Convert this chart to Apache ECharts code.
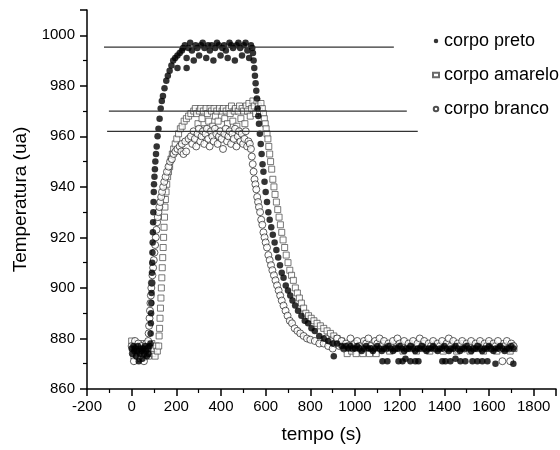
<!DOCTYPE html>
<html>
<head>
<meta charset="utf-8">
<script src="https://cdn.jsdelivr.net/npm/echarts@6/dist/echarts.min.js"></script>
<style>html,body{margin:0;padding:0;background:#fff}#c{width:560px;height:450px}</style>
</head>
<body>
<div id="c"></div>
<script>
// ---- corpo preto (filled dots) ----
var pretoX = [0,4,8,12,16,20,24,28,32,36,40,44,48,52,56,60,64,68,72,76,80,
  84,85,86,87,88,89,90,91,92,93,94,95,96,97,98,99,100,102,104,106,109,112,116,120,125,130,135,140,147,155,162,170,178,186,195,205,215,225,205,246,
  230,238,246,254,262,270,278,286,294,302,310,318,326,334,342,350,358,366,374,382,390,398,406,414,422,430,438,446,454,462,470,478,486,494,502,510,518,526,534,
  540,543,546,549,552,555,558,561,564,567,570,574,578,582,586,590,595,600,606,612,618,625,632,640,648,656,664,672,680,690,700,710,720,732,745,760,775,790,805,820,840,860,880,900,920,
  940,950,960,970,980,990,1000,1010,1020,1030,1040,1050,1060,1070,1080,1090,1100,1110,1120,1130,1140,1150,1160,1170,1180,1190,1200,1210,1220,1230,1240,1250,1260,1270,1280,1290,1300,1310,1320,1330,1340,1350,1360,1370,1380,1390,1400,1410,1420,1430,1440,1450,1460,1470,1480,1490,1500,1510,1520,1530,1540,1550,1560,1570,1580,1590,1600,1610,1620,1630,1640,1650,1660,1670,1680,1690,1700,1710,
  905,1123,1145,1195,1213,1226,1248,1270,1284,1391,1405,1427,1450,1472,1494,1526,1548,1570,1593,1629,1709];
var pretoY = [876,874,877,875,876,873,875,877,871,874,876,875,872,876,874,877,875,873,876,874,877,
  878,882,886,890,894,898,902,906,910,914,918,922,926,930,934,938,941,944,947,950,953,956,960,963,967,971,974,976,979,982,984,986,988,990,991,992,993,994,987,987,
  995,996,991,995,997,994,990,996,995,992,996,997,995,991,996,994,996,990,995,997,996,992,995,996,994,991,997,996,995,990,996,997,995,992,996,997,994,991,996,
  995,993,990,987,984,981,978,975,971,968,965,961,957,953,949,946,942,938,934,930,927,924,921,918,915,912,909,906,904,901,899,897,895,893,891,889,887,886,884,883,881,880,879,878,878,
  877,876,877,876,877,876,876,877,876,875,876,877,876,876,875,876,877,876,875,876,876,877,876,875,876,876,877,876,875,876,876,877,876,875,876,876,877,876,875,876,876,877,876,875,876,876,877,876,875,876,876,877,876,875,876,876,877,876,875,876,876,877,876,875,876,876,877,876,875,876,876,877,876,875,876,876,877,876,
  873,871,871,871,871,872,871,871,871,871,871,871,872,871,871,871,871,871,871,870,870];

// ---- corpo amarelo (open squares) ----
var amareloX = [0,5,10,15,20,25,30,35,40,45,50,55,60,65,70,75,80,85,90,95,100,105,110,115,
  121,123,125,127,129,131,133,135,137,139,141,143,145,147,149,151,154,157,161,165,170,176,182,188,195,202,210,218,226,235,245,255,265,278,
  285,291,297,303,309,315,321,327,333,339,345,351,357,363,369,375,381,387,393,399,405,411,417,423,429,435,441,447,453,459,465,471,477,483,489,495,501,507,513,519,525,531,537,543,549,555,561,567,573,579,585,
  590,594,598,602,606,610,614,618,622,627,632,637,642,648,654,660,666,672,678,685,692,700,708,716,724,733,742,751,760,770,780,792,804,816,830,845,860,875,890,905,920,940,
  955,965,975,985,995,1005,1015,1025,1035,1045,1055,1065,1075,1085,1095,1105,1115,1125,1135,1145,1155,1165,1175,1185,1195,1205,1215,1225,1235,1245,1255,1265,1275,1285,1295,1305,1315,1325,1335,1345,1355,1365,1375,1385,1395,1405,1415,1425,1435,1445,1455,1465,1475,1485,1495,1505,1515,1525,1535,1545,1555,1565,1575,1585,1595,1605,1615,1625,1635,1645,1655,1665,1675,1685,1695,1705,1712];
var amareloY = [879,876,873,877,875,878,874,876,873,877,875,878,876,874,877,873,876,875,878,874,876,873,877,875,
  877,881,884,888,892,896,900,904,908,912,916,920,924,928,932,935,938,941,944,946,948,951,953,955,957,959,961,963,964,966,967,968,969,970,
  971,969,965,970,971,967,970,963,971,969,966,971,970,964,971,968,970,966,971,962,970,971,967,970,965,971,969,972,966,970,971,964,970,972,967,971,970,965,972,970,973,968,971,974,972,969,974,972,970,973,971,
  969,967,965,963,961,959,956,953,950,947,943,940,937,934,931,928,925,922,919,916,913,910,907,905,903,900,898,896,894,892,890,889,888,887,886,885,884,883,882,881,880,879,
  878,874,877,875,878,874,877,876,874,878,876,874,877,876,874,877,876,878,876,877,875,877,876,878,876,877,875,877,876,878,876,877,875,877,876,878,876,877,875,877,876,878,876,877,875,877,876,878,876,877,875,877,876,878,876,877,875,877,876,878,876,877,875,877,876,878,876,877,875,877,876,878,876,877,875,877,876];

// ---- corpo branco (open circles) ----
var brancoX = [0,5,10,15,20,25,30,35,40,45,50,55,60,65,70,
  72,74,76,78,80,82,84,86,88,90,93,96,99,102,105,108,111,114,117,120,124,128,132,136,141,146,152,158,165,172,180,188,196,205,215,225,240,255,222,232,244,
  265,271,277,283,289,295,301,307,313,319,325,331,337,343,349,355,361,367,373,379,385,391,397,403,409,415,421,427,433,439,445,451,457,463,469,475,481,487,493,499,505,511,517,523,529,
  534,538,542,546,550,554,558,562,566,570,575,580,585,590,595,600,606,612,618,624,630,637,644,651,658,665,672,680,689,698,708,718,730,742,755,770,785,800,820,840,
  860,870,880,890,900,910,920,930,940,950,960,970,980,990,1000,1010,1020,1030,1040,1050,1060,1070,1080,1090,1100,1110,1120,1130,1140,1150,1160,1170,1180,1190,1200,1210,1220,1230,1240,1250,1260,1270,1280,1290,1300,1310,1320,1330,1340,1350,1360,1370,1380,1390,1400,1410,1420,1430,1440,1450,1460,1470,1480,1490,1500,1510,1520,1530,1540,1550,1560,1570,1580,1590,1600,1610,1620,1630,1640,1650,1660,1670,1680,1690,1695,1700,1710];
var brancoY = [877,874,871,879,876,873,878,875,872,877,874,871,876,878,874,
  876,879,882,885,888,891,894,897,900,902,905,908,911,914,917,920,923,926,928,930,932,934,936,938,940,942,944,946,948,950,951,953,954,955,956,957,958,959,954,953,954,
  960,957,962,959,956,961,963,958,960,962,957,961,963,959,956,962,960,958,963,961,957,960,962,959,955,961,963,958,960,962,957,961,959,963,956,960,962,958,961,957,959,962,956,958,957,
  955,952,949,946,943,941,939,936,934,932,930,927,925,922,920,918,916,913,911,909,907,905,903,901,899,897,895,893,891,889,887,886,884,883,882,881,880,879.5,879,878,
  878,880,877,879,876,878,880,877,879,876,878,877,880,876,878,879,877,876,879,878,880,877,876,879,878,880,877,879,876,878,877,879,876,880,878,877,879,876,878,877,879,876,878,880,877,879,876,878,877,879,876,878,877,879,876,878,880,877,879,876,878,877,879,876,878,877,879,876,878,877,879,876,878,877,879,876,878,877,879,876,871,877,879,876,871,878,877];

// ---- horizontal reference lines ----
var refLevels = [995.3, 970, 962];
var refStart = [-124, -102, -110];
var refEnd = [1174, 1232, 1281];

// ---- axes ----
var xMin = -200, xMax = 1900, xStep = 200;
var yMin = 860, yMax = 1010, yStep = 20;
var seriesNames = ['corpo preto', 'corpo amarelo', 'corpo branco'];

function pairs(xs, ys) { return xs.map(function (x, i) { return [x, ys[i]]; }); }

var font = 'Liberation Sans, Arial, sans-serif';
var series = [
  { name: seriesNames[1], type: 'scatter', data: pairs(amareloX, amareloY), symbol: 'rect', symbolSize: 6,
    itemStyle: { color: '#fff', borderColor: '#444', borderWidth: 0.9 }, z: 2 },
  { name: seriesNames[2], type: 'scatter', data: pairs(brancoX, brancoY), symbol: 'circle', symbolSize: 7,
    itemStyle: { color: '#fff', borderColor: '#222', borderWidth: 0.9 }, z: 3 },
  { name: seriesNames[0], type: 'scatter', data: pairs(pretoX, pretoY), symbol: 'circle', symbolSize: 6.5,
    itemStyle: { color: '#000' }, z: 4 }
];
refLevels.forEach(function (lv, i) {
  series.push({ type: 'line', data: [[refStart[i], lv], [refEnd[i], lv]], symbol: 'none', silent: true,
    lineStyle: { color: '#333', width: 1.3 }, z: 5 });
});

var chart = echarts.init(document.getElementById('c'));
chart.setOption({
  animation: false,
  backgroundColor: '#fff',
  grid: { left: 87, right: 4, top: 10, bottom: 61 },
  legend: {
    data: [
      { name: seriesNames[0], icon: 'circle' },
      { name: seriesNames[1], icon: 'rect' },
      { name: seriesNames[2], icon: 'circle' }
    ],
    orient: 'vertical', left: 427, top: 27, itemWidth: 6, itemHeight: 4.5, itemGap: 16,
    textStyle: { fontFamily: font, fontSize: 18, color: '#000', lineHeight: 18 }
  },
  xAxis: {
    type: 'value', min: xMin, max: xMax, interval: xStep,
    name: 'tempo (s)', nameLocation: 'middle', nameGap: 36,
    nameTextStyle: { fontFamily: font, fontSize: 19, color: '#000' },
    axisLine: { onZero: false, lineStyle: { color: '#000', width: 1.5 } },
    axisTick: { inside: false, length: 7, lineStyle: { color: '#000', width: 1.5 } },
    minorTick: { show: true, splitNumber: 2, length: 4, lineStyle: { color: '#000', width: 1.2 } },
    axisLabel: { fontFamily: font, fontSize: 15, color: '#000', margin: 10,
      formatter: function (v) { return v > 1800 ? '' : String(v); } },
    splitLine: { show: false }
  },
  yAxis: {
    type: 'value', min: yMin, max: yMax, interval: yStep,
    name: 'Temperatura (ua)', nameLocation: 'middle', nameGap: 55, nameRotate: 90,
    nameTextStyle: { fontFamily: font, fontSize: 19, color: '#000' },
    axisLine: { show: true, onZero: false, lineStyle: { color: '#000', width: 1.5 } },
    axisTick: { show: true, inside: false, length: 7, lineStyle: { color: '#000', width: 1.5 } },
    minorTick: { show: true, splitNumber: 2, length: 4, lineStyle: { color: '#000', width: 1.2 } },
    axisLabel: { fontFamily: font, fontSize: 15, color: '#000', margin: 12,
      formatter: function (v) { return v > 1000 ? '' : String(v); } },
    splitLine: { show: false }
  },
  series: series
});
</script>
</body>
</html>
